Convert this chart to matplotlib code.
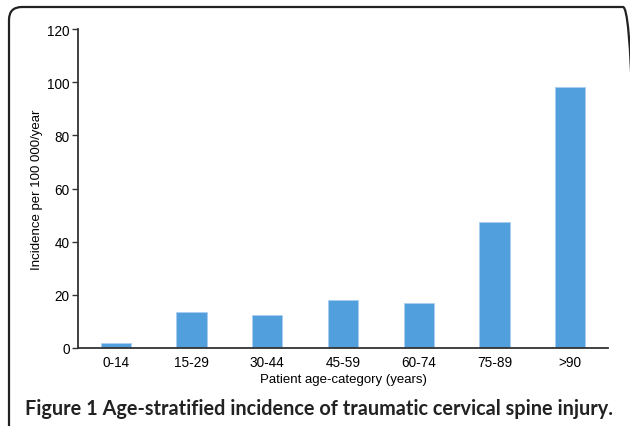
import matplotlib.pyplot as plt
from matplotlib.patches import FancyBboxPatch

# Data
age_groups = ['0-14', '15-29', '30-44', '45-59', '60-74', '75-89', '>90']
incidence = [2.0, 13.5, 12.5, 18.0, 17.0, 47.3, 98.0]

plt.rcParams['font.family'] = ['Liberation Sans', 'DejaVu Sans']

W, H = 630, 427
fig = plt.figure(figsize=(W / 100, H / 100), dpi=100)

# rounded frame around the whole figure (cut off at right/bottom), in inches
frame = FancyBboxPatch((0.09, (H - 445) / 100), (636 - 9) / 100, (445 - 8) / 100,
                       boxstyle='round,pad=0,rounding_size=0.13',
                       transform=fig.dpi_scale_trans, facecolor='none',
                       edgecolor='#222222', linewidth=1.6, clip_on=False)
fig.patches.append(frame)

ax = fig.add_axes([78 / W, 1 - 349 / H, (608 - 78) / W, (349 - 30) / H])
x = range(len(age_groups))
ax.bar(x, incidence, width=0.4, color='#519fdc', edgecolor='#a9cdf0', linewidth=0.6)

ax.set_xlim(-0.5, 6.5)
ax.set_ylim(0, 120)
ax.set_yticks(range(0, 121, 20))
ax.set_xticks(list(x))
ax.set_xticklabels(age_groups)

for side in ['top', 'right']:
    ax.spines[side].set_visible(False)
for side in ['left', 'bottom']:
    ax.spines[side].set_color('#333333')
    ax.spines[side].set_linewidth(1.3)

ax.tick_params(axis='y', length=4, width=1, color='#333333', labelsize=9.8, pad=2)
ax.tick_params(axis='x', length=0, labelsize=9.8, pad=5)

ax.set_xlabel('Patient age-category (years)', fontsize=9.5, labelpad=3)
ax.set_ylabel('Incidence per 100 000/year', fontsize=9.5, labelpad=3)

fig.text(25 / W, 1 - 409 / H,
         'Figure 1 Age-stratified incidence of traumatic cervical spine injury.',
         family=['Lato', 'DejaVu Sans'], weight='bold', fontsize=14.3,
         color='#222222', va='center', ha='left')

fig.savefig('out.png', dpi=100)
